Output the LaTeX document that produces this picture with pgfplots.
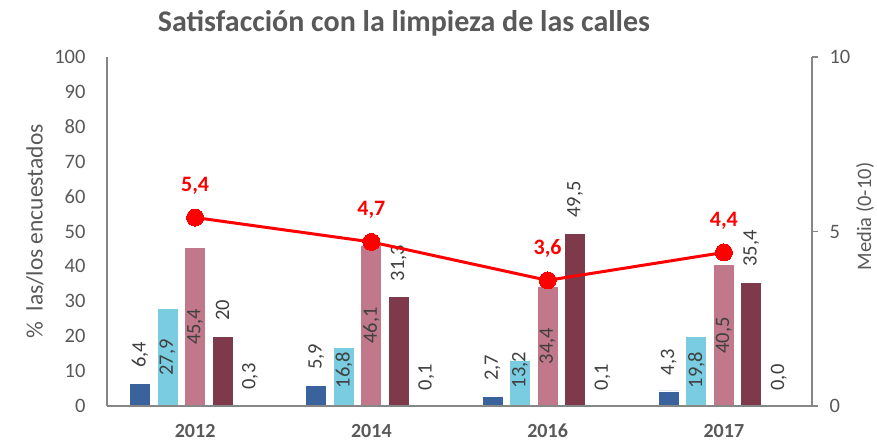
\documentclass[border=0pt]{standalone}
\usepackage{fontspec}
\setmainfont{Carlito}
\usepackage{pgfplots}
\pgfplotsset{compat=1.18}
\usetikzlibrary{calc}
\definecolor{cdb}{HTML}{3A639E}
\definecolor{clb}{HTML}{7ACCE0}
\definecolor{cpk}{HTML}{C0788A}
\definecolor{cdr}{HTML}{7E3A4A}
\definecolor{textgray}{HTML}{595959}
\definecolor{labgray}{HTML}{404040}
\definecolor{axgray}{HTML}{868686}
\begin{document}
\begin{tikzpicture}[font=\fontsize{20.5}{24}\selectfont]
\pgfplotsset{
  outlab/.style={nodes near coords,
    nodes near coords style={font=\fontsize{20.5}{24}\selectfont, text=labgray, yshift=12pt, rotate=90, anchor=west}},
  inlab/.style={nodes near coords,
    visualization depends on={rawy \as \ry},
    nodes near coords style={font=\fontsize{20.5}{24}\selectfont, text=labgray, yshift={-3.49*(\ry-max(0.5*\ry,10.3))}, rotate=90, anchor=center}},
}
\begin{axis}[name=ax, scale only axis, width=705pt, height=349pt,
  xmin=-0.5, xmax=3.5, ymin=0, ymax=100,
  ybar=6.5pt, bar width=21pt,
  axis on top,
  xtick={0,1,2,3}, xticklabels={2012,2014,2016,2017},
  xticklabel style={font=\fontsize{20}{24}\selectfont\bfseries, text=textgray, anchor=north, text height=14pt, text depth=0pt, yshift=-14pt},
  ytick={0,10,...,100},
  yticklabel style={text=textgray, xshift=-18pt},
  major tick length=0pt,
  axis x line=bottom, axis y line=left,
  axis line style={-, draw=axgray, line width=1.5pt},
  /pgf/number format/assume math mode=true,
  point meta=explicit symbolic,
  clip=false,
]
\addplot[fill=cdb, draw=white, line width=0.8pt, outlab] coordinates {(0,6.4)[6,4] (1,5.9)[5,9] (2,2.7)[2,7] (3,4.3)[4,3]};
\addplot[fill=clb, draw=white, line width=0.8pt, inlab] coordinates {(0,27.9)[27,9] (1,16.8)[16,8] (2,13.2)[13,2] (3,19.8)[19,8]};
\addplot[fill=cpk, draw=white, line width=0.8pt, inlab] coordinates {(0,45.4)[45,4] (1,46.1)[46,1] (2,34.4)[34,4] (3,40.5)[40,5]};
\addplot[fill=cdr, draw=white, line width=0.8pt, outlab] coordinates {(0,20)[20] (1,31.3)[31,3] (2,49.5)[49,5] (3,35.4)[35,4]};
\addplot[fill=none, draw=none, outlab] coordinates {(0,0.3)[0,3] (1,0.1)[0,1] (2,0.1)[0,1] (3,0.0)[0,0]};
\end{axis}
\begin{axis}[scale only axis, width=705pt, height=349pt,
  xmin=-0.5, xmax=3.5, ymin=0, ymax=10,
  axis y line=right, axis x line=none,
  ytick={0,5,10}, tick align=outside, major tick length=6pt,
  ytick style={draw=axgray, line width=1.5pt},
  yticklabel style={text=textgray, xshift=8pt},
  axis line style={-, draw=axgray, line width=1.5pt},
  /pgf/number format/assume math mode=true,
  clip=false,
]
\addplot[draw=red, line width=3pt, mark=*, mark size=8.5pt, mark options={fill=red, draw=red, line width=0pt},
  nodes near coords, point meta=explicit symbolic,
  nodes near coords style={text=red, font=\fontsize{22}{26}\selectfont\bfseries, anchor=center, yshift=32pt}]
  coordinates {(0,5.4)[5,4] (1,4.7)[4,7] (2,3.6)[3,6] (3,4.4)[4,4]};
\end{axis}
\node[font=\fontsize{30}{36}\selectfont\bfseries, text=textgray, anchor=base] at ($(ax.north west)+(297pt,25pt)$) {Satisfacción con la limpieza de las calles};
\node[rotate=90, text=textgray, font=\fontsize{23.5}{28}\selectfont] at ($(ax.west)+(-72pt,0pt)$) {\%\ \ las/los encuestados};
\node[rotate=90, text=textgray] at ($(ax.east)+(53pt,15pt)$) {Media (0-10)};
\pgfresetboundingbox
\path ($(ax.south west)+(-107pt,-41pt)$) rectangle ($(ax.north east)+(65pt,57pt)$);
\end{tikzpicture}
\end{document}
